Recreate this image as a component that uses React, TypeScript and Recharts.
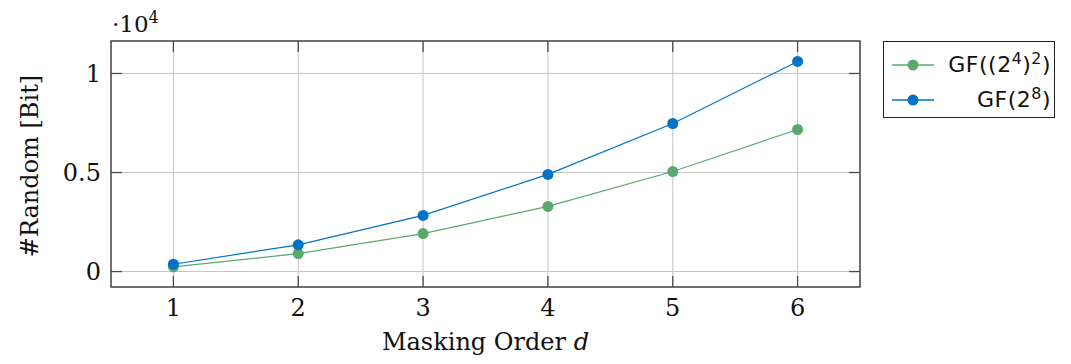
import React from "react";
import {
  LineChart, Line, XAxis, YAxis, CartesianGrid, ReferenceArea, Label,
} from "recharts";

// masking order d and random bits needed per S-box evaluation
const ORDERS = [1, 2, 3, 4, 5, 6];
const GF_TOWER_BITS = [235, 909, 1919, 3290, 5050, 7172];
const GF_256_BITS = [370, 1350, 2835, 4905, 7475, 10606];

const X_TICKS = [1, 2, 3, 4, 5, 6];
const Y_TICKS = [0, 5000, 10000];
const X_DOMAIN: [number, number] = [0.5, 6.5];
const Y_DOMAIN: [number, number] = [-780, 11640];

const SERIES = [
  { key: "tower", color: "#59a96f", base: "GF((2", sup1: "4", mid: ")", sup2: "2", end: ")" },
  { key: "aes", color: "#0073c7", base: "GF(2", sup1: "8", mid: ")", sup2: "", end: "" },
];

const data = ORDERS.map((d, i) => ({
  d,
  tower: GF_TOWER_BITS[i],
  aes: GF_256_BITS[i],
}));

const W = 1071;
const H = 364;
const MARGIN = { top: 41, right: 211, bottom: 0, left: 0 };
const Y_AXIS_W = 111;
const X_AXIS_H = 77;
const PLOT_TOP = MARGIN.top;
const PLOT_RIGHT = W - MARGIN.right;
const TICK_LEN = 11;

const SERIF = "'DejaVu Serif', serif";
const SANS = "'DejaVu Sans', sans-serif";
const FRAME = "#4a4a4a";

function XTick({ x, y, payload }: any) {
  return (
    <g>
      <line x1={x} x2={x} y1={y} y2={y - TICK_LEN} stroke={FRAME} strokeWidth={1.3} />
      <line x1={x} x2={x} y1={PLOT_TOP} y2={PLOT_TOP + TICK_LEN} stroke={FRAME} strokeWidth={1.3} />
      <text x={x} y={y + 29} textAnchor="middle" fontFamily={SERIF} fontSize={24} fill="#111">
        {payload.value}
      </text>
    </g>
  );
}

function YTick({ x, y, payload }: any) {
  return (
    <g>
      <line x1={x} x2={x + TICK_LEN} y1={y} y2={y} stroke={FRAME} strokeWidth={1.3} />
      <line x1={PLOT_RIGHT - TICK_LEN} x2={PLOT_RIGHT} y1={y} y2={y} stroke={FRAME} strokeWidth={1.3} />
      <text x={x - 10} y={y + 8.5} textAnchor="end" fontFamily={SERIF} fontSize={24} fill="#111">
        {payload.value / 10000}
      </text>
    </g>
  );
}

function YTitle({ viewBox }: any) {
  const cx = viewBox.x + 38;
  const cy = viewBox.y + viewBox.height / 2 + 2;
  return (
    <text
      x={cx}
      y={cy}
      transform={`rotate(-90, ${cx}, ${cy})`}
      textAnchor="middle"
      fontFamily={SERIF}
      fontSize={24}
      fill="#111"
    >
      #Random [Bit]
    </text>
  );
}

function Multiplier({ viewBox }: any) {
  return (
    <text
      x={viewBox.x + viewBox.width + 1}
      y={viewBox.y - 9}
      style={{ fontFamily: SERIF, fontSize: 23 }}
      fill="#111"
    >
      ·10<tspan dy={-9} style={{ fontSize: 16 }}>4</tspan>
    </text>
  );
}

function XTitle({ viewBox }: any) {
  return (
    <text
      x={viewBox.x + viewBox.width / 2}
      y={viewBox.y + 63}
      textAnchor="middle"
      fontFamily={SERIF}
      fontSize={24}
      fill="#111"
    >
      Masking Order <tspan fontStyle="italic">d</tspan>
    </text>
  );
}

function LegendBox() {
  return (
    <div
      style={{
        position: "absolute",
        left: 883,
        top: 41,
        width: 172,
        height: 77,
        boxSizing: "border-box",
        border: "1.3px solid #222",
        background: "#fff",
        padding: "5px 3px 0 7px",
        fontFamily: SANS,
        fontSize: 22,
        color: "#111",
      }}
    >
      {SERIES.map((s) => (
        <div key={s.key} style={{ display: "flex", alignItems: "center", height: 35 }}>
          <svg width={44} height={14}>
            <line x1={1} x2={43} y1={7} y2={7} stroke={s.color} strokeWidth={1.3} />
            <circle cx={22} cy={7} r={5.5} fill={s.color} />
          </svg>
          <div style={{ flex: 1, textAlign: "right", letterSpacing: 0.5, whiteSpace: "nowrap" }}>
            {s.base}
            <sup style={{ fontSize: "0.72em", lineHeight: 0 }}>{s.sup1}</sup>
            {s.mid}
            {s.sup2 && <sup style={{ fontSize: "0.72em", lineHeight: 0 }}>{s.sup2}</sup>}
            {s.end}
          </div>
        </div>
      ))}
    </div>
  );
}

export default function App() {
  return (
    <div style={{ position: "absolute", left: 0, top: 0, width: W, height: H, background: "#fff" }}>
      <LineChart width={W} height={H} data={data} margin={MARGIN}>
        <CartesianGrid stroke="#c4c4c4" strokeWidth={1} />
        <XAxis
          dataKey="d"
          type="number"
          domain={X_DOMAIN}
          ticks={X_TICKS}
          height={X_AXIS_H}
          axisLine={false}
          tickLine={false}
          tickSize={0}
          tickMargin={0}
          tick={<XTick />}
          interval={0}
          allowDataOverflow
        >
          <Label content={<XTitle />} />
        </XAxis>
        <YAxis
          type="number"
          domain={Y_DOMAIN}
          ticks={Y_TICKS}
          width={Y_AXIS_W}
          axisLine={false}
          tickLine={false}
          tickSize={0}
          tickMargin={0}
          tick={<YTick />}
          interval={0}
          allowDataOverflow
        >
          <Label content={<YTitle />} />
          <Label content={<Multiplier />} />
        </YAxis>
        <ReferenceArea
          x1={X_DOMAIN[0]}
          x2={X_DOMAIN[1]}
          y1={Y_DOMAIN[0]}
          y2={Y_DOMAIN[1]}
          fill="none"
          stroke={FRAME}
          strokeWidth={1.5}
          ifOverflow="visible"
        />
        {SERIES.map((s) => (
          <Line
            key={s.key}
            dataKey={s.key}
            stroke={s.color}
            strokeWidth={1.2}
            dot={{ r: 5.5, fill: s.color, stroke: "none" }}
            activeDot={false}
            isAnimationActive={false}
          />
        ))}
      </LineChart>
      <LegendBox />
    </div>
  );
}
